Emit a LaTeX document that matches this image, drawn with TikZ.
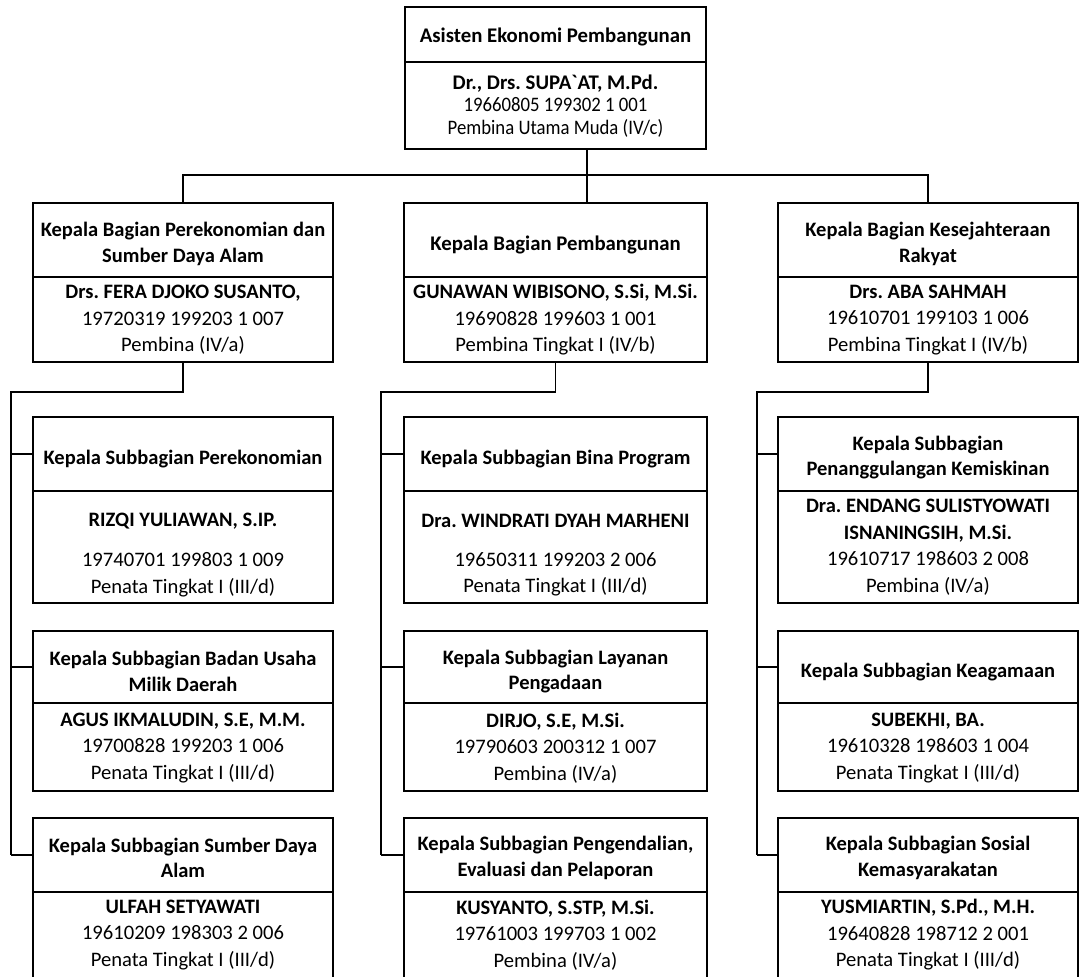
\documentclass[tikz,border=0pt]{standalone}
\usepackage{graphicx}
\usepackage{fontspec}
\setmainfont{Carlito}
\frenchspacing
\newcommand\nmfont{\bfseries\fontsize{20.5}{26.5}\selectfont}
\newcommand\condline[1]{\scalebox{0.91}[1]{#1}}
\begin{document}
\frenchspacing
\begin{tikzpicture}[x=1pt,y=-1pt,
  bx/.style={draw, line width=1.9pt, inner sep=0pt},
  conn/.style={line width=1.4pt},
  txt/.style={inner sep=0pt, align=center, yshift=-2pt, font=\fontsize{20.6}{26.5}\selectfont},
  ttl/.style={txt, font=\bfseries\fontsize{20.5}{25.5}\selectfont},
  nm/.style={txt, font=\nmfont},
  toptxt/.style={inner sep=0pt, align=center, font=\fontsize{20.6}{22.8}\selectfont},
]
\useasboundingbox (0,0) rectangle (1079,977);

% ---------- top box ----------
\node[bx, minimum width=301pt, minimum height=55pt] (T0t) at (555.5,34.5) {};
\node[bx, minimum width=301pt, minimum height=87pt] (T0b) at (555.5,105.5) {};
\node[ttl, font=\bfseries\fontsize{20.8}{25.5}\selectfont] (T0tx) at (555.5,35) {Asisten Ekonomi Pembangunan};
\node[toptxt] (T0bx) at (555.5,106) {{\bfseries\fontsize{20.8}{22.8}\selectfont Dr., Drs. SUPA{\addfontfeatures{Ligatures=TeXOff}\char"60}AT, M.Pd.}\\\condline{19660805 199302 1 001}\\\condline{Pembina Utama Muda (IV/c)}};

% ---------- row 2 ----------
\node[bx, minimum width=300pt, minimum height=74pt] (L2t) at (183,240) {};
\node[bx, minimum width=300pt, minimum height=85pt] (L2b) at (183,319.5) {};
\node[ttl] (L2tx) at (183,242) {Kepala Bagian Perekonomian dan\\Sumber Daya Alam};
\node[txt] (L2bx) at (183,318) {{\nmfont Drs. FERA DJOKO SUSANTO,}\\19720319 199203 1 007\\Pembina (IV/a)};

\node[bx, minimum width=303pt, minimum height=74pt] (M2t) at (555.5,240) {};
\node[bx, minimum width=303pt, minimum height=85pt] (M2b) at (555.5,319.5) {};
\node[ttl, font=\bfseries\fontsize{20.8}{25.5}\selectfont] (M2tx) at (555.5,243) {Kepala Bagian Pembangunan};
\node[txt] (M2bx) at (555.5,318) {{\nmfont GUNAWAN WIBISONO, S.Si, M.Si.}\\19690828 199603 1 001\\Pembina Tingkat I (IV/b)};

\node[bx, minimum width=300pt, minimum height=74pt] (R2t) at (928,240) {};
\node[bx, minimum width=300pt, minimum height=85pt] (R2b) at (928,319.5) {};
\node[ttl] (R2tx) at (928,242) {Kepala Bagian Kesejahteraan\\Rakyat};
\node[txt] (R2bx) at (928,318) {{\nmfont Drs. ABA SAHMAH}\\19610701 199103 1 006\\Pembina Tingkat I (IV/b)};

% ---------- sub boxes: left column ----------
\node[bx, minimum width=300pt, minimum height=74pt] (L3t) at (183,454) {};
\node[bx, minimum width=300pt, minimum height=112pt] (L3b) at (183,547) {};
\node[ttl] (L3tx) at (183,457) {Kepala Subbagian Perekonomian};
\node[nm] (L3nx) at (183,519) {RIZQI YULIAWAN, S.IP.};
\node[txt] (L3bx) at (183,572.5) {19740701 199803 1 009\\Penata Tingkat I (III/d)};

\node[bx, minimum width=300pt, minimum height=72pt] (L4t) at (183,667) {};
\node[bx, minimum width=300pt, minimum height=88pt] (L4b) at (183,747) {};
\node[ttl] (L4tx) at (183,669.5) {Kepala Subbagian Badan Usaha\\Milik Daerah};
\node[txt] (L4bx) at (183,746) {{\nmfont AGUS IKMALUDIN, S.E, M.M.}\\19700828 199203 1 006\\Penata Tingkat I (III/d)};

\node[bx, minimum width=300pt, minimum height=74pt] (L5t) at (183,855) {};
\node[bx, minimum width=300pt, minimum height=120pt] (L5b) at (183,952) {};
\node[ttl] (L5tx) at (183,856) {Kepala Subbagian Sumber Daya\\Alam};
\node[txt] (L5bx) at (183,933) {{\nmfont ULFAH SETYAWATI}\\19610209 198303 2 006\\Penata Tingkat I (III/d)};

% ---------- sub boxes: middle column ----------
\node[bx, minimum width=303pt, minimum height=74pt] (M3t) at (555.5,454) {};
\node[bx, minimum width=303pt, minimum height=112pt] (M3b) at (555.5,547) {};
\node[ttl] (M3tx) at (555.5,457) {Kepala Subbagian Bina Program};
\node[nm] (M3nx) at (555.5,519) {Dra. WINDRATI DYAH MARHENI};
\node[txt] (M3bx) at (555.5,572.5) {19650311 199203 2 006\\Penata Tingkat I (III/d)};

\node[bx, minimum width=303pt, minimum height=72pt] (M4t) at (555.5,667) {};
\node[bx, minimum width=303pt, minimum height=88pt] (M4b) at (555.5,747) {};
\node[ttl] (M4tx) at (555.5,669.5) {Kepala Subbagian Layanan\\Pengadaan};
\node[txt] (M4bx) at (555.5,746) {{\nmfont DIRJO, S.E, M.Si.}\\19790603 200312 1 007\\Pembina (IV/a)};

\node[bx, minimum width=303pt, minimum height=74pt] (M5t) at (555.5,855) {};
\node[bx, minimum width=303pt, minimum height=120pt] (M5b) at (555.5,952) {};
\node[ttl] (M5tx) at (555.5,856) {Kepala Subbagian Pengendalian,\\Evaluasi dan Pelaporan};
\node[txt] (M5bx) at (555.5,933) {{\nmfont KUSYANTO, S.STP, M.Si.}\\19761003 199703 1 002\\Pembina (IV/a)};

% ---------- sub boxes: right column ----------
\node[bx, minimum width=300pt, minimum height=74pt] (R3t) at (928,454) {};
\node[bx, minimum width=300pt, minimum height=112pt] (R3b) at (928,547) {};
\node[ttl] (R3tx) at (928,455.5) {Kepala Subbagian\\Penanggulangan Kemiskinan};
\node[txt] (R3bx) at (928,545) {{\nmfont Dra. ENDANG SULISTYOWATI}\\{\nmfont ISNANINGSIH, M.Si.}\\19610717 198603 2 008\\Pembina (IV/a)};

\node[bx, minimum width=300pt, minimum height=72pt] (R4t) at (928,667) {};
\node[bx, minimum width=300pt, minimum height=88pt] (R4b) at (928,747) {};
\node[ttl] (R4tx) at (928,670) {Kepala Subbagian Keagamaan};
\node[txt] (R4bx) at (928,746) {{\nmfont SUBEKHI, BA.}\\19610328 198603 1 004\\Penata Tingkat I (III/d)};

\node[bx, minimum width=300pt, minimum height=74pt] (R5t) at (928,855) {};
\node[bx, minimum width=300pt, minimum height=120pt] (R5b) at (928,952) {};
\node[ttl] (R5tx) at (928,856) {Kepala Subbagian Sosial\\Kemasyarakatan};
\node[txt] (R5bx) at (928,933) {{\nmfont YUSMIARTIN, S.Pd., M.H.}\\19640828 198712 2 001\\Penata Tingkat I (III/d)};

% ---------- connectors ----------
\coordinate (j0) at (587,175);
\draw[conn] (T0b.south -| j0) -- (j0);
\draw[conn] (L2t.north) |- (j0) -| (R2t.north);
\draw[conn] (j0) -- (j0 |- M2t.north);

\coordinate (jl) at (11,392);
\draw[conn] (L2b.south) |- (jl) -- (jl |- L5t.west);
\draw[conn] (jl |- L3t.west) -- (L3t.west);
\draw[conn] (jl |- L4t.west) -- (L4t.west);
\draw[conn] (jl |- L5t.west) -- (L5t.west);

\coordinate (jm) at (381,392);
\draw[conn] (M2b.south) |- (jm) -- (jm |- M5t.west);
\draw[conn] (jm |- M3t.west) -- (M3t.west);
\draw[conn] (jm |- M4t.west) -- (M4t.west);
\draw[conn] (jm |- M5t.west) -- (M5t.west);

\coordinate (jr) at (757,392);
\draw[conn] (R2b.south) |- (jr) -- (jr |- R5t.west);
\draw[conn] (jr |- R3t.west) -- (R3t.west);
\draw[conn] (jr |- R4t.west) -- (R4t.west);
\draw[conn] (jr |- R5t.west) -- (R5t.west);
\end{tikzpicture}
\end{document}
